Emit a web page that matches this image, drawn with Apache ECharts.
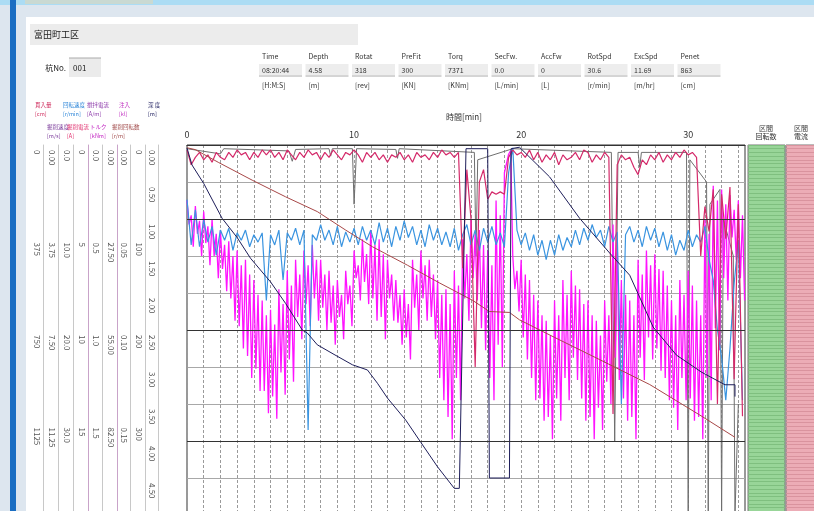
<!DOCTYPE html>
<html><head><meta charset="utf-8">
<script src="https://cdn.jsdelivr.net/npm/echarts/dist/echarts.min.js"></script>
<style>html,body{margin:0;padding:0;background:#fff}#c{width:814px;height:511px}</style>
</head><body><div id="c"></div><script>
// ---- data ----
const tSamples = [
 0,0.25,0.5,0.75,1,1.25,1.5,1.75,
 2,2.25,2.5,2.75,3,3.25,3.5,3.75,
 4,4.25,4.5,4.75,5,5.25,5.5,5.75,
 6,6.25,6.5,6.75,7,7.25,7.5,7.75,
 8,8.25,8.5,8.75,9,9.25,9.5,9.75,
 10,10.25,10.5,10.75,11,11.25,11.5,11.75,
 12,12.25,12.5,12.75,13,13.25,13.5,13.75,
 14,14.25,14.5,14.75,15,15.25,15.5,15.75,
 16,16.25,16.5,16.75,17,17.25,17.5,17.75,
 18,18.25,18.5,18.75,19,19.25,19.5,19.75,
 20,20.25,20.5,20.75,21,21.25,21.5,21.75,
 22,22.25,22.5,22.75,23,23.25,23.5,23.75,
 24,24.25,24.5,24.75,25,25.25,25.5,25.75,
 26,26.25,26.5,26.75,27,27.25,27.5,27.75,
 28,28.25,28.5,28.75,29,29.25,29.5,29.75,
 30,30.25,30.5,30.75,31,31.25,31.5,31.75,
 32,32.25,32.5,32.75,33,33.25
];
const tFine = [
 0,0.125,0.25,0.375,0.5,0.625,0.75,0.875,1,1.125,1.25,1.375,1.5,1.625,1.75,1.875,
 2,2.125,2.25,2.375,2.5,2.625,2.75,2.875,3,3.125,3.25,3.375,3.5,3.625,3.75,3.875,
 4,4.125,4.25,4.375,4.5,4.625,4.75,4.875,5,5.125,5.25,5.375,5.5,5.625,5.75,5.875,
 6,6.125,6.25,6.375,6.5,6.625,6.75,6.875,7,7.125,7.25,7.375,7.5,7.625,7.75,7.875,
 8,8.125,8.25,8.375,8.5,8.625,8.75,8.875,9,9.125,9.25,9.375,9.5,9.625,9.75,9.875,
 10,10.125,10.25,10.375,10.5,10.625,10.75,10.875,11,11.125,11.25,11.375,11.5,11.625,11.75,11.875,
 12,12.125,12.25,12.375,12.5,12.625,12.75,12.875,13,13.125,13.25,13.375,13.5,13.625,13.75,13.875,
 14,14.125,14.25,14.375,14.5,14.625,14.75,14.875,15,15.125,15.25,15.375,15.5,15.625,15.75,15.875,
 16,16.125,16.25,16.375,16.5,16.625,16.75,16.875,17,17.125,17.25,17.375,17.5,17.625,17.75,17.875,
 18,18.125,18.25,18.375,18.5,18.625,18.75,18.875,19,19.125,19.25,19.375,19.5,19.625,19.75,19.875,
 20,20.125,20.25,20.375,20.5,20.625,20.75,20.875,21,21.125,21.25,21.375,21.5,21.625,21.75,21.875,
 22,22.125,22.25,22.375,22.5,22.625,22.75,22.875,23,23.125,23.25,23.375,23.5,23.625,23.75,23.875,
 24,24.125,24.25,24.375,24.5,24.625,24.75,24.875,25,25.125,25.25,25.375,25.5,25.625,25.75,25.875,
 26,26.125,26.25,26.375,26.5,26.625,26.75,26.875,27,27.125,27.25,27.375,27.5,27.625,27.75,27.875,
 28,28.125,28.25,28.375,28.5,28.625,28.75,28.875,29,29.125,29.25,29.375,29.5,29.625,29.75,29.875,
 30,30.125,30.25,30.375,30.5,30.625,30.75,30.875,31,31.125,31.25,31.375,31.5,31.625,31.75,31.875,
 32,32.125,32.25,32.375,32.5,32.625,32.75,32.875,33,33.125,33.25,33.375
];
// magenta (axis 0-20), sampled on tFine
const magentaV = [
 3.0,4.3,3.8,5.5, 3.3,4.8,4.1,6.0, 3.6,5.3,4.4,6.5, 4.0,6.0,4.8,7.2,
 4.6,6.7,5.4,7.9, 5.2,8.3,6.0,9.5, 5.7,9.8,6.5,11.0, 6.2,11.4,7.0,12.6,
 7.3,12.1,8.1,13.3, 8.4,13.3,9.2,14.5, 8.9,13.6,9.7,14.8, 7.8,12.3,8.6,13.5,
 6.8,11.6,7.6,12.8, 6.2,9.3,7.0,10.5, 5.7,8.6,6.5,9.8, 5.4,8.3,6.2,9.5,
 6.2,8.8,7.0,10.0, 6.8,9.6,7.6,10.8, 7.3,9.3,8.1,10.5, 6.8,8.6,7.6,9.8,
 5.7,7.2,6.5,8.4, 5.1,7.4,5.9,8.6, 4.6,8.3,5.4,9.5, 5.1,9.3,5.9,10.5,
 6.2,8.3,7.0,9.5, 7.3,9.6,8.1,10.8, 7.8,10.4,8.6,11.6, 6.2,8.8,7.0,10.0,
 5.7,8.3,6.5,9.5, 6.2,9.3,7.0,10.5, 7.3,12.6,8.1,13.8, 7.8,14.7,8.6,15.9,
 6.8,12.6,7.6,13.8, 5.1,8.3,5.9,9.5, 4.0,7.2,4.8,8.4, 4.6,9.9,5.4,11.1,
 5.7,12.6,6.5,13.8, 3.0,10.8,3.8,12.0, 1.5,1.0,0.5,0.3, 6.0,7.8,6.8,9.0,
 6.2,10.4,7.0,11.6, 7.3,12.6,8.1,13.8, 8.4,13.7,9.2,14.9, 9.5,14.7,10.3,15.9,
 8.4,13.7,9.2,14.9, 7.3,12.6,8.1,13.8, 6.8,11.5,7.6,12.7, 7.8,13.7,8.6,14.9,
 8.4,14.7,9.2,15.9, 9.5,14.2,10.3,15.4, 8.4,12.8,9.2,14.0, 4.3,11.5,5.1,12.7,
 7.3,13.7,8.1,14.9, 8.4,14.7,9.2,15.9, 6.2,11.5,7.0,12.7, 5.7,10.4,6.5,11.6,
 5.9,11.0,6.7,12.2, 6.8,12.6,7.6,13.8, 8.4,14.2,9.2,15.4, 7.3,12.6,8.1,13.8,
 6.8,13.7,7.6,14.9, 8.4,14.7,9.2,15.9, 4.0,12.6,4.8,13.8, 2.2,9.9,3.0,11.1,
 2.4,7.2,3.2,8.4, 2.7,5.0,3.5,6.2, 3.0,7.2,3.8,8.4
];
// blue (axis 0-40), sampled on tSamples
const blueV = [
 5.9,10.8,7.0,11.0,8.1,10.5,8.8,11.9,
 9.2,10.3,9.0,11.4,9.5,10.3,9.2,11.0,
 9.7,10.5,9.5,16.8,9.7,10.8,9.2,14.6,
 9.5,10.3,9.0,10.8,9.2,30.8,9.7,10.3,
 8.6,10.3,9.2,10.8,8.8,11.0,9.4,10.5,
 9.0,10.8,8.8,10.3,9.2,10.8,8.4,10.5,
 9.0,11.0,8.8,10.3,8.2,10.0,8.8,10.8,
 9.2,11.0,8.6,10.3,9.0,10.8,9.4,11.0,
 9.0,11.4,9.7,8.6,10.8,9.2,11.4,9.0,
 10.5,8.8,10.8,9.5,11.0,3.0,0.3,9.2,
 10.8,9.5,11.4,9.7,11.9,10.3,12.4,10.3,
 11.9,9.7,11.4,10.0,11.0,9.2,10.8,9.0,
 10.3,8.6,10.0,9.2,11.0,8.8,10.5,9.4,
 28.0,9.7,8.8,10.5,9.2,11.0,8.8,10.3,
 9.0,11.0,9.4,11.4,9.7,11.9,10.3,11.4,
 9.2,11.0,9.7,10.5,8.8,12.4,14.6,20.0,
 23.0,27.6,22.0,15.0,10.3,27.6
];
// crimson (axis 0-15), sampled on tSamples
const crimsonV = [
 0.2,0.8,0.5,0.3,0.6,0.4,0.7,0.3,
 0.5,0.6,0.3,0.5,0.2,0.4,0.3,0.6,
 0.3,0.5,0.2,0.4,0.2,0.5,0.3,0.6,
 0.2,0.4,0.6,0.3,0.5,0.2,0.4,0.3,
 0.6,0.3,0.5,0.2,0.4,0.6,0.3,0.4,
 0.2,0.4,0.7,0.3,0.5,0.3,0.6,0.4,
 0.7,0.4,0.5,0.3,0.6,0.4,0.7,0.3,
 0.5,0.4,0.6,0.3,0.5,0.2,0.4,0.3,
 0.5,0.3,5.0,1.0,3.0,9.0,1.5,1.0,
 2.2,1.9,2.0,1.9,2.0,0.5,0.2,0.4,
 0.3,0.5,0.2,0.6,0.3,0.7,0.4,0.6,
 0.3,0.8,0.4,0.6,0.5,0.3,0.6,0.2,
 0.3,0.7,0.4,0.6,0.3,0.5,10.9,0.8,
 0.4,0.6,0.5,0.9,1.2,0.6,0.8,0.4,
 0.6,0.3,0.7,0.4,0.6,0.3,0.5,0.2,
 0.4,0.3,0.5,4.5,2.5,3.5,1.8,10.5,
 2.0,3.8,1.7,9.5,2.4,11.0
];
// depth (axis 0-5 m)
const depthT = [0,0.3,1.0,2.1,3.0,3.8,5.0,5.9,6.9,7.2,7.8,8.8,9.9,10.8,11.4,12.0,13.1,14.0,15.0,16.0,16.3,16.7,18.0,18.1,19.3,19.4,19.9,21.7,23.5,25.3,26.5,27.9,29.3,30.8,32.2,32.8,32.8];
const depthV = [0.04,0.27,0.52,0.99,1.25,1.53,1.85,2.14,2.5,2.54,2.7,2.83,2.97,3.04,3.22,3.42,3.72,4.02,4.35,4.64,4.64,0.05,0.05,4.5,4.5,0.05,0.03,0.43,0.99,1.46,1.76,2.46,2.84,3.07,3.24,3.24,3.4];
// brown (axis 0-400)
const brownT = [0,0.5,1.9,3.9,5.9,7.8,9.5,11.1,13.2,15.1,17.1,18.1,19.3,19.9,22.0,24.7,27.7,30.7,32.8];
const brownV = [3,5,19,38,56,72,92,110,130,149,168,180,181,189,208,232,259,292,316];
// gray (axis 0-5)
const grayT = [0,2,2.2,6.1,6.3,6.5,8.5,8.6,8.7,9.9,10.0,10.15,12.5,12.6,12.7,17.2,17.3,17.4,19.5,25.4,25.6,25.8,27,27.1,27.2,29.9,30.0,30.1,31.1,31.2,31.3,31.9,32.0,32.1,32.7,32.8,33.0];
const grayV = [0.05,0.12,0.05,0.08,0.22,0.06,0.05,0.15,0.05,0.05,0.8,0.05,0.06,0.18,0.05,0.1,1.5,0.2,0.05,0.1,4.0,0.1,0.1,0.3,0.1,0.1,5.0,0.2,0.5,5.0,0.8,0.6,5.0,1.0,1.5,5.0,3.5];
const darkLines = [1.0, 2.5, 4.0];
// left axes tick specs
const axisMax  = [1500, 15, 40, 20, 2.0, 110, 0.20, 400, 5];
const axisStep = [375, 3.75, 10, 5, 0.5, 27.5, 0.05, 100, 0.5];
const axisDec  = [0, 2, 1, 0, 1, 2, 2, 0, 2];
const xTickLabels = [0, 10, 20, 30];
// header table
const hdrNames = ['Time','Depth','Rotat','PreFit','Torq','SecFw.','AccFw','RotSpd','ExcSpd','Penet'];
const hdrVals  = ['08:20:44','4.58','318','300','7371','0.0','0','30.6','11.69','863'];
const hdrUnits = ['[H:M:S]','[m]','[rev]','[KN]','[KNm]','[L/min]','[L]','[r/min]','[m/hr]','[cm]'];

// ---- layout ----
const FONT = '"Noto Sans CJK JP", "Noto Sans", sans-serif';
const zip = (a, b) => a.map((x, i) => [x, b[i]]);
const axisOffset = [144,129,114,99,85,70,57,42,29];
const axisColor = ['#c8c8c8','#c8c8c8','#c8c8c8','#c9a3c9','#c8c8c8','#c9a3c9','#c8c8c8','#c8c8c8','#c8c8c8'];

const yAxes = axisMax.map((m, i) => ({
  type: 'value', gridIndex: 0, inverse: true, min: 0, max: m, interval: axisStep[i],
  position: 'left', offset: axisOffset[i],
  axisLine: { show: true, onZero: false, lineStyle: { color: axisColor[i], width: 1 } },
  axisTick: { show: false },
  axisLabel: { rotate: -90, align: 'left', verticalAlign: 'top', margin: 2, padding: [0,0,0,5], fontSize: 8, color: '#555', fontFamily: FONT,
    hideOverlap: false, formatter: v => Number(v).toFixed(axisDec[i]) },
  splitLine: { show: i === 8, lineStyle: { color: '#a8a8a8', width: 1 } }
}));
yAxes.push({ type:'value', gridIndex:1, inverse:true, min:0, max:5, interval:0.05,
  axisLine:{show:false}, axisTick:{show:false}, axisLabel:{show:false},
  splitLine:{show:true, lineStyle:{color:'#7fbf7f', width:1}} });
yAxes.push({ type:'value', gridIndex:2, inverse:true, min:0, max:5, interval:0.05,
  axisLine:{show:false}, axisTick:{show:false}, axisLabel:{show:false},
  splitLine:{show:true, lineStyle:{color:'#d9939e', width:1}} });

const G = [];
// backgrounds
G.push({type:'rect', z:-10, shape:{x:0,y:0,width:814,height:511}, style:{fill:'#dde6ef'}});
G.push({type:'rect', z:-9, shape:{x:0,y:0,width:814,height:5}, style:{fill:'#abdcf4'}});
G.push({type:'rect', z:-9, shape:{x:25,y:0,width:128,height:4}, style:{fill:'#c9d9d2'}});
G.push({type:'rect', z:-9, shape:{x:10,y:0,width:6,height:511}, style:{fill:'#1a6dc2'}});
G.push({type:'rect', z:-9, shape:{x:26,y:17,width:788,height:494}, style:{fill:'#ffffff'}});
// title
G.push({type:'rect', z:-8, shape:{x:30,y:24,width:328,height:21}, style:{fill:'#ececec'}});
G.push({type:'text', x:34, y:35, style:{text:'富田町工区', fill:'#222', font:'9px '+FONT, verticalAlign:'middle'}});
G.push({type:'text', x:66, y:68, style:{text:'杭No.', fill:'#222', font:'8px '+FONT, align:'right', verticalAlign:'middle'}});
G.push({type:'rect', z:-8, shape:{x:69,y:58,width:32,height:19}, style:{fill:'#ebebeb'}});
G.push({type:'line', shape:{x1:69,y1:58,x2:101,y2:58}, style:{stroke:'#aaa', lineWidth:1}});
G.push({type:'text', x:73, y:68, style:{text:'001', fill:'#222', font:'8px '+FONT, verticalAlign:'middle'}});
// header table
hdrNames.forEach((n, i) => {
  const x = 262 + i * 46.5;
  G.push({type:'text', x:x, y:56, style:{text:n, fill:'#333', font:'7px '+FONT, verticalAlign:'middle'}});
  G.push({type:'rect', z:-8, shape:{x:x-3,y:64,width:43,height:11}, style:{fill:'#ededed'}});
  G.push({type:'line', shape:{x1:x-3,y1:76,x2:x+40,y2:76}, style:{stroke:'#aaa', lineWidth:1}});
  G.push({type:'text', x:x, y:70, style:{text:hdrVals[i], fill:'#333', font:'7px '+FONT, verticalAlign:'middle'}});
  G.push({type:'text', x:x, y:85, style:{text:hdrUnits[i], fill:'#333', font:'7px '+FONT, verticalAlign:'middle'}});
});
// left legend
const leg1 = [['貫入量','[cm]',35,'#d03060'],['回転速度','[r/min]',63,'#2a84d8'],['撹拌電流','[A/m]',87,'#8a35a8'],['注入','[kl]',119,'#c030c0'],['深 度','[m]',148,'#202060']];
const leg2 = [['掘削速度','[m/s]',47,'#7a3a9a'],['掘削電流','[A]',67,'#e0306e'],['トルク','[kNm]',90,'#c020c0'],['掘削回転数','[r/m]',112,'#a04848']];
leg1.forEach(l => {
  G.push({type:'text', x:l[2], y:105, style:{text:l[0], fill:l[3], font:'5.5px '+FONT, verticalAlign:'middle'}});
  G.push({type:'text', x:l[2], y:114, style:{text:l[1], fill:l[3], font:'5.5px '+FONT, verticalAlign:'middle'}});
});
leg2.forEach(l => {
  G.push({type:'text', x:l[2], y:127, style:{text:l[0], fill:l[3], font:'5.5px '+FONT, verticalAlign:'middle'}});
  G.push({type:'text', x:l[2], y:136, style:{text:l[1], fill:l[3], font:'5.5px '+FONT, verticalAlign:'middle'}});
});
// axis name and right panel headers
G.push({type:'text', x:446, y:117, style:{text:'時間[min]', fill:'#333', font:'8px '+FONT, verticalAlign:'middle'}});
G.push({type:'text', x:766, y:132, style:{text:'区間\n回転数', fill:'#333', font:'7px '+FONT, align:'center', verticalAlign:'middle', lineHeight:8}});
G.push({type:'text', x:801, y:132, style:{text:'区間\n電流', fill:'#333', font:'7px '+FONT, align:'center', verticalAlign:'middle', lineHeight:8}});

const lineS = (name, yi, data, color, w) => ({
  type:'line', name, xAxisIndex:0, yAxisIndex:yi, data, showSymbol:false, symbol:'none',
  lineStyle:{color, width:w || 1}, itemStyle:{color}, animation:false
});

const option = {
  backgroundColor: '#dde6ef',
  animation: false,
  textStyle: { fontFamily: FONT },
  graphic: G,
  grid: [
    { left:187, top:145, width:558, height:370, show:true, backgroundColor:'#fff', borderColor:'#333', borderWidth:1, outerBoundsMode:'none', containLabel:false },
    { left:748, top:145, width:37, height:370, show:true, backgroundColor:'#98d598', borderColor:'#777', borderWidth:1, outerBoundsMode:'none' },
    { left:786, top:145, width:40, height:370, show:true, backgroundColor:'#ecacb6', borderColor:'#777', borderWidth:1, outerBoundsMode:'none' }
  ],
  xAxis: [
    { type:'value', gridIndex:0, position:'top', min:0, max:33.4, interval:1,
      axisLine:{show:true, onZero:false, lineStyle:{color:'#333'}}, axisTick:{show:false},
      axisLabel:{fontSize:9, color:'#333', margin:6, formatter: v => (xTickLabels.indexOf(v) >= 0 ? String(v) : '')},
      splitLine:{show:true, lineStyle:{color:'#9a9a9a', width:1, type:[3,2]}} },
    { type:'value', gridIndex:1, min:0, max:1, show:false },
    { type:'value', gridIndex:2, min:0, max:1, show:false }
  ],
  yAxis: yAxes,
  series: [
    lineS('gray', 8, zip(grayT, grayV), '#6e6e6e'),
    lineS('magenta', 3, zip(tFine, magentaV), '#ff14ff', 1.3),
    lineS('blue', 2, zip(tSamples, blueV), '#3a94e0', 1.2),
    lineS('crimson', 1, zip(tSamples, crimsonV), '#d42a6a', 1.2),
    lineS('brown', 7, zip(brownT, brownV), '#a84848'),
    Object.assign(lineS('depth', 8, zip(depthT, depthV), '#1e1e5a'), {
      markLine: { silent:true, symbol:'none', label:{show:false}, animation:false,
        lineStyle:{color:'#333', width:1, type:'solid'}, data: darkLines.map(v => ({yAxis:v})) }
    })
  ]
};
const chart = echarts.init(document.getElementById('c'), null, {renderer:'canvas'});
chart.setOption(option);
</script></body></html>
